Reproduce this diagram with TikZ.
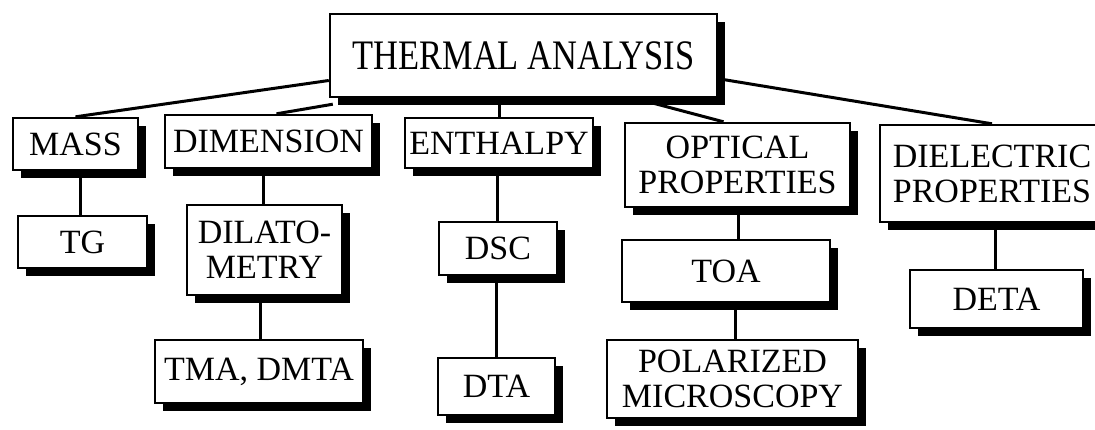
\documentclass[tikz,border=0pt]{standalone}
\usepackage{fontspec}
\setmainfont{Liberation Serif}
\newfontfamily\titlefont[FakeStretch=0.82]{Liberation Serif}
\usetikzlibrary{shadows,backgrounds}
\begin{document}
\begin{tikzpicture}[x=0.5pt,y=-0.5pt,
  sz/.style 2 args={minimum width=#1*0.5pt, minimum height=#2*0.5pt},
  box/.style={draw, line width=1.2pt, fill=white, inner sep=0pt, align=center,
    font=\fontsize{17pt}{15pt}\selectfont,
    drop shadow={shadow xshift=4pt, shadow yshift=-4pt, fill=black, opacity=1}},
  conn/.style={line width=1.5pt}]
\useasboundingbox (0,0) rectangle (1095,429);
\clip (0,0) rectangle (1095,429);
\node[box, sz={387}{83}] (top) at (523.5,55.5) {\titlefont\fontsize{21pt}{24pt}\selectfont THERMAL ANALYSIS};
\node[box, sz={125}{52}] (mass) at (75.5,144) {MASS};
\node[box, sz={207}{53}] (dim) at (268.5,141.5) {DIMENSION};
\node[box, sz={188}{50}] (enth) at (499,143) {ENTHALPY};
\node[box, sz={225}{84}] (opt) at (737.5,165) {OPTICAL\\[2.5pt]PROPERTIES};
\node[box, sz={224}{97}] (diel) at (992,173.5) {DIELECTRIC\\[2.5pt]PROPERTIES};
\node[box, sz={129}{52}] (tg) at (82.5,242) {TG};
\node[box, sz={155}{90}] (dilato) at (264.5,250) {DILATO-\\[2.5pt]METRY};
\node[box, sz={208}{63}] (tma) at (259,371.5) {TMA, DMTA};
\node[box, sz={118}{53}] (dsc) at (498,248.5) {DSC};
\node[box, sz={117}{57}] (dta) at (496.5,386.5) {DTA};
\node[box, sz={208}{62}] (toa) at (726,271) {TOA};
\node[box, sz={251}{78}] (pol) at (732.5,379) {POLARIZED\\[2.5pt]MICROSCOPY};
\node[box, sz={173}{58}] (deta) at (996.5,299) {DETA};
\begin{pgfonlayer}{background}
\draw[conn] ([yshift=-12.5pt]top.west) -- (mass.north);
\draw[conn] ([xshift=2pt,yshift=-3pt]top.south west) -- ([xshift=4pt]dim.north);
\draw[conn] (enth.north) -- (enth.north |- top.south);
\draw[conn] ([xshift=63pt,yshift=-2pt]top.south) -- ([xshift=-7pt]opt.north);
\draw[conn] ([xshift=2.5pt,yshift=-12pt]top.east) -- (diel.north);
\draw[conn] ([xshift=-1.25pt]tg.north) -- ([xshift=-1.25pt]tg.north |- mass.south);
\draw[conn] ([xshift=-0.75pt]dilato.north) -- ([xshift=-0.75pt]dilato.north |- dim.south);
\draw[conn] ([xshift=0.5pt]tma.north) -- ([xshift=0.5pt]tma.north |- dilato.south);
\draw[conn] ([xshift=-0.5pt]dsc.north) -- ([xshift=-0.5pt]dsc.north |- enth.south);
\draw[conn] (dta.north) -- (dta.north |- dsc.south);
\draw[conn] ([xshift=6pt]toa.north) -- ([xshift=6pt]toa.north |- opt.south);
\draw[conn] ([xshift=1.25pt]pol.north) -- ([xshift=1.25pt]pol.north |- toa.south);
\draw[conn] ([xshift=-0.75pt]deta.north) -- ([xshift=-0.75pt]deta.north |- diel.south);
\end{pgfonlayer}
\end{tikzpicture}
\end{document}
